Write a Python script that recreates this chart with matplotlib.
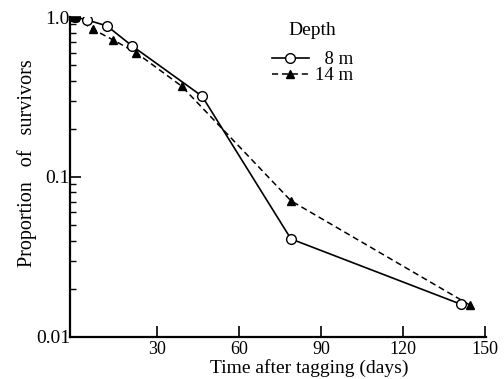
import matplotlib
matplotlib.use('Agg')
import matplotlib.pyplot as plt
from matplotlib.ticker import FixedLocator, LogLocator, NullFormatter

plt.rcParams['font.family'] = ['Liberation Serif', 'DejaVu Serif']

# survival data
days_8m = [0, 4.4, 11.7, 20.9, 46.5, 79, 141.2]
surv_8m = [1.0, 0.96, 0.88, 0.66, 0.32, 0.041, 0.016]

days_14m = [0, 6.5, 13.9, 22.3, 39, 79, 144.5]
surv_14m = [1.0, 0.84, 0.72, 0.60, 0.37, 0.071, 0.0158]

x_ticks = [30, 60, 90, 120, 150]
y_ticks = [0.01, 0.1, 1.0]
y_tick_labels = ['0.01', '0.1', '1.0']

fig = plt.figure(figsize=(5.04, 3.79), dpi=100)
ax = fig.add_axes([0.139, 0.111, 0.825, 0.844])

ax.plot(days_14m, surv_14m, color='black', linestyle=(0, (4, 2.5)), linewidth=1.1,
        marker='^', markersize=6, markerfacecolor='black', markeredgecolor='black',
        label='14 m', zorder=2)
ax.plot(days_8m, surv_8m, color='black', linestyle='-', linewidth=1.2,
        marker='o', markersize=7, markerfacecolor='white', markeredgecolor='black',
        markeredgewidth=1.0, label='  8 m', zorder=3)
# common starting point
ax.plot([days_8m[0]], [surv_8m[0]], 'o', color='black', markersize=7, zorder=4)

ax.set_yscale('log')
ax.set_xlim(-1.8, 150.3)
ax.set_ylim(0.01, 1.0)

ax.xaxis.set_major_locator(FixedLocator(x_ticks))
ax.set_xticklabels([str(t) for t in x_ticks])
ax.yaxis.set_major_locator(FixedLocator(y_ticks))
ax.set_yticklabels(y_tick_labels)
ax.yaxis.set_minor_locator(LogLocator(base=10, subs=range(2, 10)))
ax.yaxis.set_minor_formatter(NullFormatter())

ax.tick_params(axis='x', which='major', direction='in', length=8, width=1.2,
               labelsize=13, pad=3)
ax.tick_params(axis='y', which='major', direction='in', length=8, width=1.2,
               labelsize=14, pad=0)
ax.tick_params(axis='y', which='minor', direction='in', length=4, width=1.0)

for side in ['top', 'right']:
    ax.spines[side].set_visible(False)
for side in ['left', 'bottom']:
    ax.spines[side].set_linewidth(1.6)

ax.set_xlabel('Time after tagging (days)', fontsize=14)
ax.xaxis.set_label_coords(0.576, -0.068)
ax.set_ylabel('Proportion   of   survivors', fontsize=14.5)
ax.yaxis.set_label_coords(-0.08, 0.544)

handles, labels = ax.get_legend_handles_labels()
leg = ax.legend(handles[::-1], labels[::-1], title='Depth', frameon=False,
                loc='upper left', bbox_to_anchor=(0.453, 1.027), fontsize=13.5,
                title_fontsize=14, handlelength=2.0, handletextpad=0.3,
                labelspacing=-0.05, borderpad=0.2)
leg._legend_box.sep = 9

fig.savefig('out.png', dpi=100)
